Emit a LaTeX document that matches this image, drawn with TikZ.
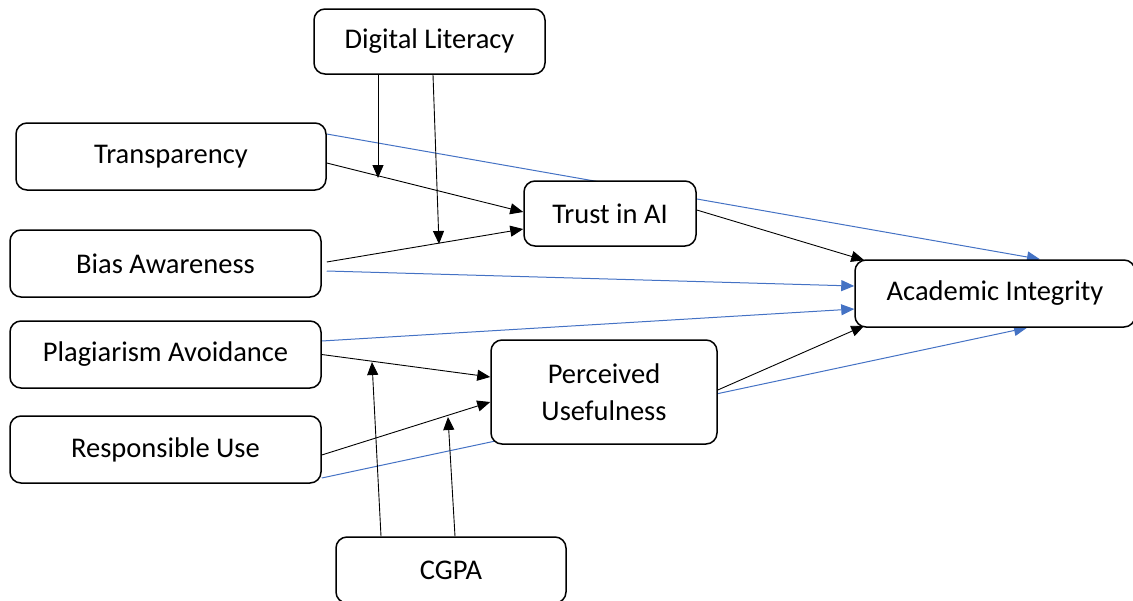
\documentclass[tikz,border=0pt]{standalone}
\usepackage{fontspec}
\setmainfont{Carlito}
\usetikzlibrary{arrows.meta,backgrounds,calc}
\definecolor{blueline}{HTML}{4472C4}
\tikzset{
  box/.style={draw=black, line width=1.5pt, rounded corners=11pt, fill=white, align=center,
    inner sep=0pt, font=\fontsize{28.5}{37}\selectfont},
  blk/.style={draw=black, line width=0.9pt, -{Triangle[length=13pt,width=11pt]}},
  blu/.style={draw=blueline, line width=1pt, -{Triangle[length=13pt,width=11pt]}, blueline}
}
\begin{document}
\begin{tikzpicture}[x=1pt,y=-1pt]
\useasboundingbox (0,0) rectangle (1133,600);
\node[box, minimum width=231, minimum height=65] (dl) at (429.5,41.5) {Digital Literacy};
\node[box, minimum width=310, minimum height=67] (tr) at (171,156.5) {Transparency};
\node[box, minimum width=311, minimum height=67] (ba) at (165.5,263.5) {Bias Awareness};
\node[box, minimum width=311, minimum height=67] (pa) at (165.5,354.5) {Plagiarism Avoidance};
\node[box, minimum width=311, minimum height=67] (ru) at (165.5,449.5) {Responsible Use};
\node[box, minimum width=172, minimum height=65] (ta) at (610,213.5) {Trust in AI};
\node[box, minimum width=226, minimum height=104] (pu) at (604,392) {Perceived\\Usefulness};
\node[box, minimum width=280, minimum height=67] (ai) at (995,293.5) {Academic Integrity};
\node[box, minimum width=230, minimum height=66] (cg) at (451,570) {CGPA};
\coordinate (m1) at (378,178);
\coordinate (m2) at (439,244);
\coordinate (m3) at (372,362);
\coordinate (m4) at (448,417);
\begin{scope}[on background layer]
% blue direct paths
\draw[blu] ($(tr.east)+(0,-22.5)$) -- ($(ai.north)+(45,0)$);
\draw[blu] ($(ba.east)+(5,7.5)$) -- ($(ai.west)+(0,-7.5)$);
\draw[blu] ($(pa.east)+(0,-13.5)$) -- ($(ai.west)+(0,15.5)$);
\draw[blu] ($(ru.east)+(0,28.5)$) -- ($(ai.south)+(32,0)$);
% black paths
\draw[blk] ($(tr.east)+(0,6.5)$) -- ($(ta.west)+(0,-1.5)$);
\draw[blk] ($(ba.east)+(5,-1.5)$) -- ($(ta.west)+(0,15.5)$);
\draw[blk] ($(ta.east)+(0,-3.5)$) -- ($(ai.north west)+(10,1)$);
\draw[blk] (pa.east) -- ($(pu.west)+(0,-15)$);
\draw[blk] ($(ru.east)+(0,5.5)$) -- ($(pu.west)+(0,10)$);
\draw[blk] ($(pu.east)+(0,-2)$) -- ($(ai.south west)+(10,-2)$);
% moderators
\draw[blk] ($(dl.south)+(-51.5,0)$) -- (m1);
\draw[blk] ($(dl.south)+(3.5,0)$) -- (m2);
\draw[blk] ($(cg.north)+(-70,0)$) -- (m3);
\draw[blk] ($(cg.north)+(4,0)$) -- (m4);
\end{scope}
\end{tikzpicture}
\end{document}
